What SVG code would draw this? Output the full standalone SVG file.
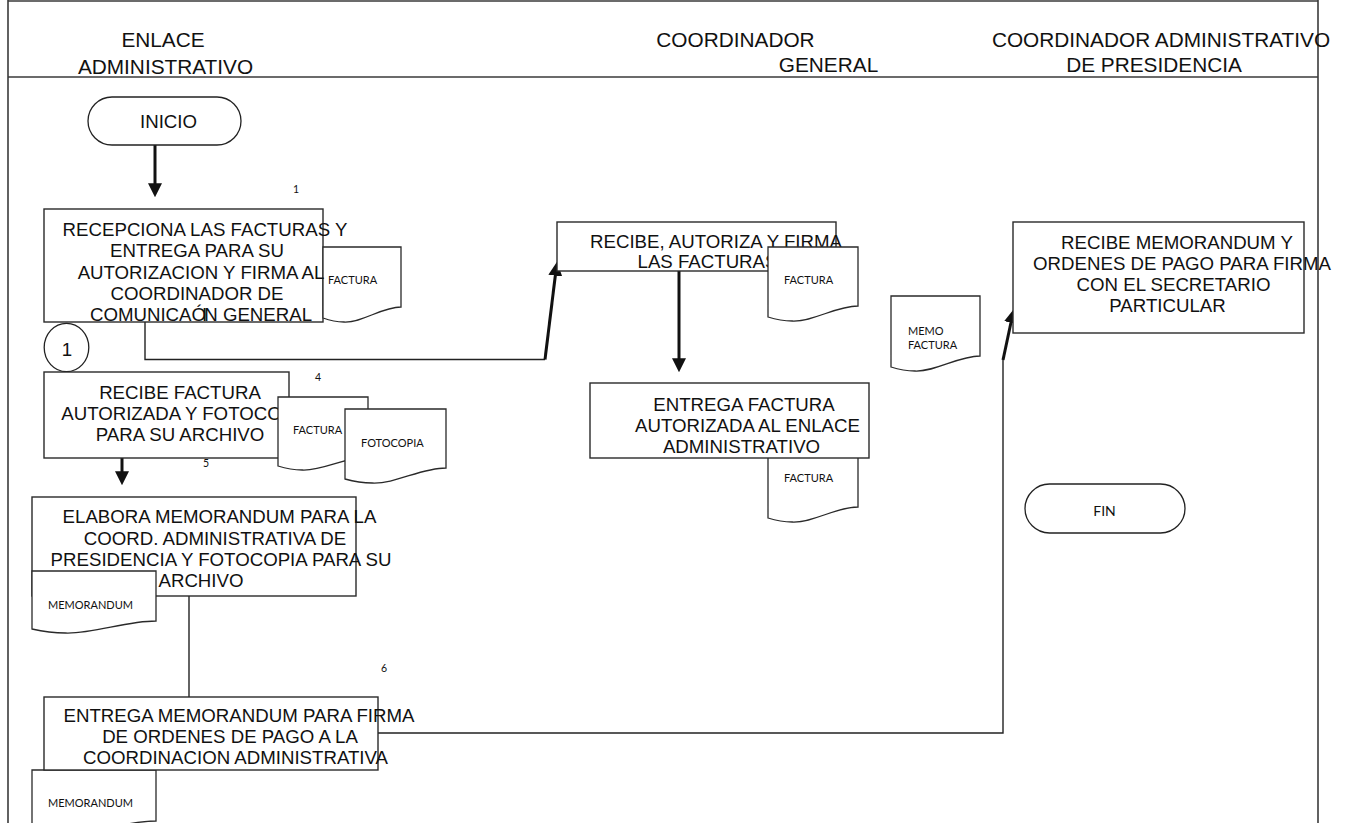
<svg xmlns="http://www.w3.org/2000/svg" width="1351" height="823" viewBox="0 0 1351 823">
  <style>
    .frame { fill: none; stroke: #3a3a3a; stroke-width: 1.6; }
    .box { fill: #fff; stroke: #2a2a2a; stroke-width: 1.4; }
    .doc { fill: #fff; stroke: #2a2a2a; stroke-width: 1.3; }
    .term { fill: #fff; stroke: #222; stroke-width: 1.3; }
    .lane { font-family: "Liberation Sans", Arial, sans-serif; font-size: 20.8px; fill: #111; text-anchor: middle; }
    .t { font-family: "Liberation Sans", Arial, sans-serif; font-size: 18.67px; fill: #111; text-anchor: middle; }
    .dl { font-family: Lato, "Open Sans", sans-serif; font-size: 11px; fill: #111; }
    .num { font-family: Lato, "Open Sans", sans-serif; font-size: 10.5px; fill: #111; text-anchor: middle; }
    .thin { fill: none; stroke: #222; stroke-width: 1.4; }
    .thick { fill: none; stroke: #111; stroke-width: 3; marker-end: url(#head); }
  </style>
  <defs>
    <marker id="head" viewBox="0 0 10 10" markerUnits="userSpaceOnUse" markerWidth="14" markerHeight="14" refX="7" refY="5" orient="auto">
      <path d="M0,0 L10,5 L0,10 Z" fill="#111"/>
    </marker>
  </defs>

  <rect width="1351" height="823" fill="#fff"/>

  <!-- swimlane frame and header -->
  <g id="frame">
    <line class="frame" x1="8" y1="1" x2="1318" y2="1"/>
    <line class="frame" x1="8" y1="0" x2="8" y2="823"/>
    <line class="frame" x1="1318" y1="0" x2="1318" y2="823"/>
    <line class="frame" x1="8" y1="77" x2="1318" y2="77"/>
    <text class="lane" x="163" y="47">ENLACE</text>
    <text class="lane" x="165.5" y="74">ADMINISTRATIVO</text>
    <text class="lane" x="735.5" y="47">COORDINADOR</text>
    <text class="lane" x="828.5" y="72">GENERAL</text>
    <text class="lane" x="1161" y="47">COORDINADOR ADMINISTRATIVO</text>
    <text class="lane" x="1154" y="72">DE PRESIDENCIA</text>
  </g>

  <!-- connectors -->
  <g id="connectors">
    <line class="thick" x1="155" y1="145" x2="155" y2="193"/>
    <polyline class="thin" points="145,322 145,359.5 545,359.5"/>
    <line class="thick" x1="545" y1="359.5" x2="556.5" y2="266"/>
    <line class="thick" x1="679" y1="271" x2="679" y2="368"/>
    <line class="thick" x1="122" y1="458" x2="122" y2="481"/>
    <line class="thin" x1="189" y1="596" x2="189" y2="697"/>
    <polyline class="thin" points="378,733 1003,733 1003,360"/>
    <line class="thick" x1="1003" y1="360" x2="1013" y2="313"/>
  </g>

  <!-- step numbers -->
  <g id="numbers">
    <text class="num" x="296" y="193">1</text>
    <text class="num" x="318" y="381">4</text>
    <text class="num" x="206" y="467">5</text>
    <text class="num" x="384" y="672">6</text>
  </g>

  <g id="inicio">
    <rect class="term" x="88" y="97" width="153" height="48" rx="24" ry="24"/>
    <text class="t" x="168.5" y="128">INICIO</text>
  </g>

  <g id="recepciona">
    <rect class="box" x="44" y="209" width="279" height="113"/>
    <path class="doc" d="M323,247 H401 V307 C381.5,307 362,323 344,322 C334.7,322 328.5,320 323,318 Z"/>
    <text class="dl" x="328" y="284">FACTURA</text>
    <text class="t" x="205" y="236">RECEPCIONA LAS FACTURAS Y</text>
    <text class="t" x="197" y="257">ENTREGA PARA SU</text>
    <text class="t" x="201" y="278.5">AUTORIZACION Y FIRMA AL</text>
    <text class="t" x="197" y="300">COORDINADOR DE</text>
    <text class="t" x="201" y="321">COMUNICAÓ<tspan dx="-4">I</tspan><tspan dx="-3">N GENERAL</tspan></text>
  </g>

  <g id="conector-1">
    <ellipse class="term" cx="66.5" cy="347.5" rx="22.3" ry="24.2"/>
    <text class="t" x="67" y="356">1</text>
  </g>

  <g id="recibe-factura">
    <rect class="box" x="44" y="372" width="245" height="86"/>
    <text class="t" x="180" y="399">RECIBE FACTURA</text>
    <text class="t" x="186.5" y="420">AUTORIZADA Y FOTOCOPIA</text>
    <text class="t" x="180" y="441">PARA SU ARCHIVO</text>
    <path class="doc" d="M278,397 H368 V457 C345.5,457 323,471 302.3,470 C291.5,470 284.3,468 278,466 Z"/>
    <text class="dl" x="293" y="434">FACTURA</text>
    <path class="doc" d="M345,409 H446 V468 C420.8,468 395.5,484 372.3,483 C360.2,483 352.1,481 345,479 Z"/>
    <text class="dl" x="361" y="447">FOTOCOPIA</text>
  </g>

  <g id="elabora">
    <rect class="box" x="32" y="497" width="324" height="99"/>
    <text class="t" x="219.5" y="523">ELABORA MEMORANDUM PARA LA</text>
    <text class="t" x="215" y="545">COORD. ADMINISTRATIVA DE</text>
    <text class="t" x="221" y="566">PRESIDENCIA Y FOTOCOPIA PARA SU</text>
    <text class="t" x="201" y="587">ARCHIVO</text>
    <path class="doc" d="M32,571 H156 V621 C125,621 94,634 65.5,633 C50.6,633 40.7,631 32,629 Z"/>
    <text class="dl" x="48" y="609">MEMORANDUM</text>
  </g>

  <g id="entrega-memorandum">
    <path class="doc" d="M32,770 H156 V821 C125,821 94,834 65.5,833 C50.6,833 40.7,831 32,829 Z"/>
    <text class="dl" x="48" y="807">MEMORANDUM</text>
    <rect class="box" x="44" y="697" width="334" height="73"/>
    <text class="t" x="239" y="722">ENTREGA MEMORANDUM PARA FIRMA</text>
    <text class="t" x="230" y="743">DE ORDENES DE PAGO A LA</text>
    <text class="t" x="235.5" y="764">COORDINACION ADMINISTRATIVA</text>
  </g>

  <g id="autoriza">
    <rect class="box" x="557" y="222" width="279" height="49"/>
    <text class="t" x="716" y="248">RECIBE, AUTORIZA Y FIRMA</text>
    <text class="t" x="707.5" y="268">LAS FACTURAS</text>
    <path class="doc" d="M768,247 H858 V306 C835.5,306 813,322 792.3,321 C781.5,321 774.3,319 768,317 Z"/>
    <text class="dl" x="784" y="284">FACTURA</text>
  </g>

  <g id="entrega-factura">
    <path class="doc" d="M768,447 H858 V507 C835.5,507 813,523 792.3,522 C781.5,522 774.3,520 768,518 Z"/>
    <text class="dl" x="784" y="482">FACTURA</text>
    <rect class="box" x="590" y="383" width="279" height="75"/>
    <text class="t" x="744" y="411">ENTREGA FACTURA</text>
    <text class="t" x="747.5" y="432">AUTORIZADA AL ENLACE</text>
    <text class="t" x="741.5" y="453">ADMINISTRATIVO</text>
  </g>

  <g id="memo-factura">
    <path class="doc" d="M891,296 H980 V356 C958,356 935.5,372 915,371 C904.4,371 897.2,369 891,367 Z"/>
    <text class="dl" x="908" y="335">MEMO</text>
    <text class="dl" x="908" y="349">FACTURA</text>
  </g>

  <g id="recibe-memorandum">
    <rect class="box" x="1013" y="222" width="291" height="111"/>
    <text class="t" x="1177" y="249">RECIBE MEMORANDUM Y</text>
    <text class="t" x="1182" y="270">ORDENES DE PAGO PARA FIRMA</text>
    <text class="t" x="1173.5" y="291">CON EL SECRETARIO</text>
    <text class="t" x="1167.5" y="312">PARTICULAR</text>
  </g>

  <g id="fin">
    <rect class="term" x="1025" y="484" width="160" height="49" rx="24.5" ry="24.5"/>
    <text x="1104.5" y="516" font-family="Lato, 'Open Sans', sans-serif" font-size="14" fill="#111" text-anchor="middle">FIN</text>
  </g>
</svg>
